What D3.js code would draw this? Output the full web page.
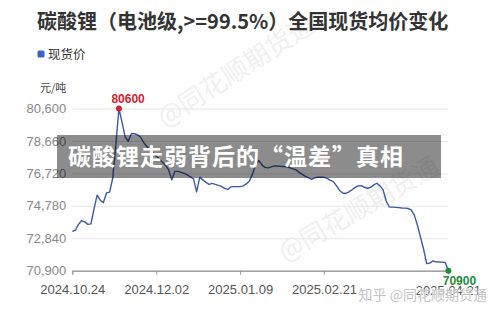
<!DOCTYPE html>
<html>
<head>
<meta charset="utf-8">
<script src="https://cdn.jsdelivr.net/npm/d3@7/dist/d3.min.js"></script>
<style>
  body { margin: 0; background: #fff; }
  svg { display: block; font-family: "Liberation Sans", Arial, sans-serif; }
  .cjk { font-family: "Noto Sans CJK SC", "Noto Sans", sans-serif; }
</style>
</head>
<body>
<svg id="chart"></svg>
<script>
// daily spot price, yuan/ton (trading days 2024.10.24 -> 2025.04.21)
const prices = [
  73250, 73320, 73670, 73900, 73820, 73670, 73700, 74610, 75420, 75100,
  74970, 75550, 75600, 76430, 78400, 80600, 79790, 78900, 78640, 79090,
  79090, 79030, 78880, 78550, 78330, 78130, 77950, 77740, 77590, 77380,
  77200, 76930, 76330, 76840, 76840, 76780, 76720, 76630, 76510, 76390,
  75610, 76480, 76330, 76180, 76060, 76120, 76060, 76000, 75940, 75820,
  75760, 75910, 75930, 75930, 75930, 75970, 76090, 76270, 76690, 77230,
  77490, 77230, 77080, 77050, 77110, 77170, 77160, 77140, 77130, 77110,
  77050, 76990, 76930, 76780, 76660, 76540, 76450, 76370, 76450, 76490,
  76490, 76480, 76420, 76300, 76230, 75970, 75700, 75550, 75520, 75610,
  75740, 75880, 75970, 75990, 75890, 75830, 75890, 76030, 76130, 75970,
  75730, 75070, 74710, 74700, 74690, 74670, 74650, 74640, 74620, 74540,
  74240, 73640, 72920, 72200, 71330, 71350, 71480, 71430, 71420, 71410,
  71390, 70900
];
const xTickIdx = [0, 27, 54, 81];
const xTickLabels = ["2024.10.24", "2024.12.02", "2025.01.09", "2025.02.21"];
const lastLabel = "2025.04.21";
const yTicks = [70900, 72840, 74780, 76720, 78660, 80600];

const W = 500, H = 315;
const svg = d3.select("#chart").attr("width", W).attr("height", H);
svg.append("rect").attr("width", W).attr("height", H).attr("fill", "#fff");

const x = d3.scaleLinear().domain([0, prices.length - 1]).range([72.3, 448.4]);
const y = d3.scaleLinear().domain([70900, 80600]).range([270.7, 108.5]);

// watermarks (behind everything)
svg.append("text").classed("cjk", true)
    .attr("transform", "translate(165,128) rotate(-33)")
    .attr("font-size", 26).attr("fill", "#efefef")
    .text("@同花顺期货通");
svg.append("text").classed("cjk", true)
    .attr("transform", "translate(285,262) rotate(-30)")
    .attr("font-size", 26).attr("fill", "#efefef")
    .text("@同花顺期货通");

// title + legend
svg.append("text").classed("cjk", true)
    .attr("x", 37).attr("y", 29)
    .attr("font-size", 20).attr("font-weight", "bold").attr("fill", "#333")
    .text("碳酸锂（电池级,>=99.5%）全国现货均价变化");
svg.append("rect").attr("x", 37.5).attr("y", 50.5).attr("width", 7).attr("height", 7)
    .attr("rx", 1.5).attr("fill", "#3f63c4");
svg.append("text").classed("cjk", true)
    .attr("x", 48).attr("y", 58.5).attr("font-size", 12.5).attr("fill", "#333")
    .text("现货价");

// unit
svg.append("text").classed("cjk", true)
    .attr("x", 40).attr("y", 92).attr("font-size", 11).attr("fill", "#444")
    .text("元/吨");

// y grid + labels
const yAxis = d3.axisLeft(y).tickValues(yTicks)
    .tickSize(-(x.range()[1] - x.range()[0]))
    .tickPadding(6)
    .tickFormat(d3.format(","));
const gy = svg.append("g").attr("transform", `translate(${x.range()[0]},0)`).call(yAxis);
gy.select(".domain").remove();
gy.selectAll(".tick line").attr("stroke", d => d === 70900 ? "#999" : "#e6e6e6");
gy.selectAll(".tick text").attr("fill", "#888").attr("font-size", 13)
    .attr("font-family", "Liberation Sans, Arial, sans-serif");

// x axis
const xAxis = d3.axisBottom(x).tickValues(xTickIdx).tickSize(4).tickPadding(10)
    .tickFormat((d, i) => xTickLabels[i]);
const gx = svg.append("g").attr("transform", `translate(0,${y(70900)})`).call(xAxis);
gx.select(".domain").attr("stroke", "#999");
gx.selectAll(".tick line").attr("stroke", "#999");
gx.selectAll(".tick text").attr("fill", "#555").attr("font-size", 13)
    .attr("font-family", "Liberation Sans, Arial, sans-serif");
gx.append("text")
    .attr("x", x(prices.length - 1)).attr("y", 24)
    .attr("text-anchor", "middle").attr("fill", "#555").attr("font-size", 13)
    .text(lastLabel);

// price line
const line = d3.line().x((d, i) => x(i)).y(d => y(d));
svg.append("path").datum(prices)
    .attr("fill", "none").attr("stroke", "#3a5aa6").attr("stroke-width", 1.4)
    .attr("stroke-linejoin", "round")
    .attr("d", line);

// max / last markers
const maxIdx = prices.indexOf(d3.max(prices));
const lastIdx = prices.length - 1;
svg.append("circle").attr("cx", x(maxIdx)).attr("cy", y(prices[maxIdx])).attr("r", 3)
    .attr("fill", "#d2222d");
svg.append("text").attr("x", x(maxIdx) - 7.5).attr("y", y(prices[maxIdx]) - 6)
    .attr("font-size", 12).attr("font-weight", "bold").attr("fill", "#d2222d")
    .text(prices[maxIdx]);
svg.append("circle").attr("cx", x(lastIdx)).attr("cy", y(prices[lastIdx])).attr("r", 3)
    .attr("fill", "#1e8c3c");
svg.append("text").attr("x", x(lastIdx) + 11).attr("y", y(prices[lastIdx]) + 14)
    .attr("text-anchor", "middle")
    .attr("font-size", 12).attr("font-weight", "bold").attr("fill", "#1e8c3c")
    .text(prices[lastIdx]);

// zhihu watermark
svg.append("text").classed("cjk", true)
    .attr("x", 487).attr("y", 300).attr("text-anchor", "end")
    .attr("font-size", 14).attr("fill", "#c4c4c4")
    .attr("stroke", "#fff").attr("stroke-width", 0.6).attr("paint-order", "stroke")
    .text("知乎 @同花顺期货通");

// headline banner
svg.append("rect").attr("x", 57).attr("y", 135).attr("width", 384).attr("height", 43)
    .attr("fill", "rgba(0,0,0,0.45)");
svg.append("text").classed("cjk", true)
    .attr("x", 68).attr("y", 164.5)
    .attr("font-size", 23).attr("font-weight", "bold").attr("fill", "#fff")
    .attr("letter-spacing", 1)
    .text("碳酸锂走弱背后的“温差”真相");
</script>
</body>
</html>
